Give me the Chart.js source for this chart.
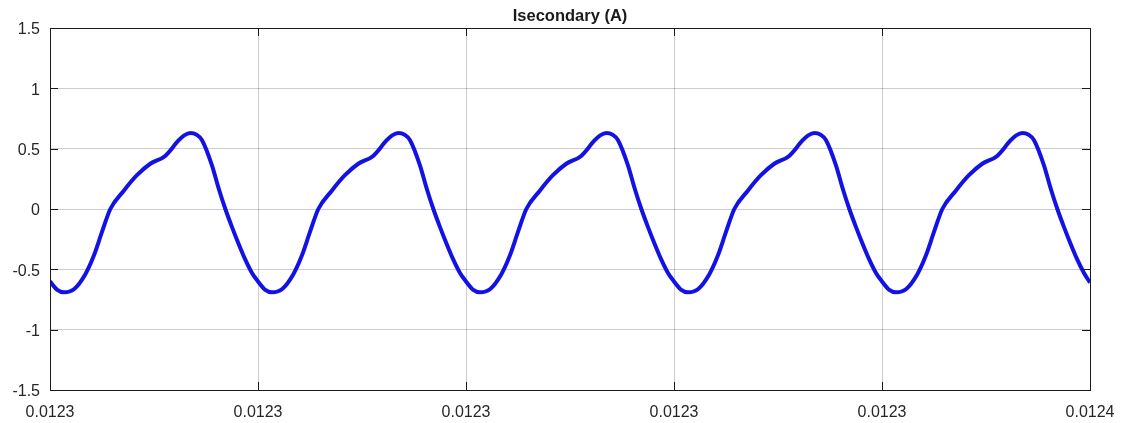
<!DOCTYPE html>
<html>
<head>
<meta charset="utf-8">
<script src="https://cdn.jsdelivr.net/npm/chart.js@4/dist/chart.umd.min.js"></script>
<style>
  html, body { margin: 0; padding: 0; background: #ffffff; }
  #wrap { width: 1124px; height: 423px; position: relative; }
</style>
</head>
<body>
<div id="wrap"><canvas id="c" width="1124" height="423"></canvas></div>
<script>
const chartTitle = "Isecondary (A)";
const xTickLabels = ["0.0123", "0.0123", "0.0123", "0.0123", "0.0123", "0.0124"];
const yTickLabels = ["-1.5", "-1", "-0.5", "0", "0.5", "1", "1.5"];
const yTickValues = [-1.5, -1, -0.5, 0, 0.5, 1, 1.5];

// time in grid divisions (0 .. 5)
const time = [
  0.000, 0.035, 0.067, 0.115, 0.170, 0.210, 0.250, 0.290, 0.354, 0.418, 0.482, 0.554,
  0.619, 0.645, 0.675, 0.705, 0.731, 0.779, 0.811, 0.843, 0.875, 0.907, 0.939, 0.971,
  1.000, 1.035, 1.067, 1.115, 1.170, 1.210, 1.250, 1.290, 1.354, 1.418, 1.482, 1.554,
  1.619, 1.645, 1.675, 1.705, 1.731, 1.779, 1.811, 1.843, 1.875, 1.907, 1.939, 1.971,
  2.000, 2.035, 2.067, 2.115, 2.170, 2.210, 2.250, 2.290, 2.354, 2.418, 2.482, 2.554,
  2.619, 2.645, 2.675, 2.705, 2.731, 2.779, 2.811, 2.843, 2.875, 2.907, 2.939, 2.971,
  3.000, 3.035, 3.067, 3.115, 3.170, 3.210, 3.250, 3.290, 3.354, 3.418, 3.482, 3.554,
  3.619, 3.645, 3.675, 3.705, 3.731, 3.779, 3.811, 3.843, 3.875, 3.907, 3.939, 3.971,
  4.000, 4.035, 4.067, 4.115, 4.170, 4.210, 4.250, 4.290, 4.354, 4.418, 4.482, 4.554,
  4.619, 4.645, 4.675, 4.705, 4.731, 4.779, 4.811, 4.843, 4.875, 4.907, 4.939, 4.971,
  5.000
];
const current = [
  -0.60, -0.67, -0.69, -0.665, -0.54, -0.39, -0.19, 0.00, 0.15, 0.28, 0.375, 0.44,
  0.57, 0.61, 0.63, 0.615, 0.57, 0.36, 0.17, 0.00, -0.15, -0.29, -0.42, -0.53,
  -0.60, -0.67, -0.69, -0.665, -0.54, -0.39, -0.19, 0.00, 0.15, 0.28, 0.375, 0.44,
  0.57, 0.61, 0.63, 0.615, 0.57, 0.36, 0.17, 0.00, -0.15, -0.29, -0.42, -0.53,
  -0.60, -0.67, -0.69, -0.665, -0.54, -0.39, -0.19, 0.00, 0.15, 0.28, 0.375, 0.44,
  0.57, 0.61, 0.63, 0.615, 0.57, 0.36, 0.17, 0.00, -0.15, -0.29, -0.42, -0.53,
  -0.60, -0.67, -0.69, -0.665, -0.54, -0.39, -0.19, 0.00, 0.15, 0.28, 0.375, 0.44,
  0.57, 0.61, 0.63, 0.615, 0.57, 0.36, 0.17, 0.00, -0.15, -0.29, -0.42, -0.53,
  -0.60, -0.67, -0.69, -0.665, -0.54, -0.39, -0.19, 0.00, 0.15, 0.28, 0.375, 0.44,
  0.57, 0.61, 0.63, 0.615, 0.57, 0.36, 0.17, 0.00, -0.15, -0.29, -0.42, -0.53,
  -0.61
];

const points = time.map((t, i) => ({ x: t, y: current[i] }));

const frameTicks = {
  id: 'frameTicks',
  afterDatasetsDraw(chart) {
    const { ctx, chartArea: a, scales: { x, y } } = chart;
    ctx.save();
    ctx.strokeStyle = '#1a1a1a';
    ctx.lineWidth = 1;
    ctx.strokeRect(Math.round(a.left) + 0.5, Math.round(a.top) + 0.5,
                   Math.round(a.right - a.left), Math.round(a.bottom - a.top));
    const L = 8;
    ctx.beginPath();
    x.ticks.forEach(t => {
      const px = Math.round(x.getPixelForValue(t.value)) + 0.5;
      ctx.moveTo(px, a.bottom); ctx.lineTo(px, a.bottom - L);
      ctx.moveTo(px, a.top); ctx.lineTo(px, a.top + L);
    });
    y.ticks.forEach(t => {
      const py = Math.round(y.getPixelForValue(t.value)) + 0.5;
      ctx.moveTo(a.left, py); ctx.lineTo(a.left + L, py);
      ctx.moveTo(a.right, py); ctx.lineTo(a.right - L, py);
    });
    ctx.stroke();
    ctx.restore();
  }
};

new Chart(document.getElementById('c'), {
  type: 'line',
  data: {
    datasets: [{
      data: points,
      borderColor: 'rgb(18,18,228)',
      borderWidth: 4,
      pointRadius: 0,
      cubicInterpolationMode: 'monotone',
      fill: false
    }]
  },
  options: {
    responsive: false,
    animation: false,
    layout: { padding: { left: 0, right: 34, top: 0, bottom: 0 } },
    plugins: {
      legend: { display: false },
      tooltip: { enabled: false },
      title: {
        display: true,
        text: chartTitle,
        fullSize: false,
        color: '#1a1a1a',
        font: { family: 'Liberation Sans, Arial, sans-serif', size: 16.5, weight: 'bold', lineHeight: 1.2 },
        padding: { top: 7, bottom: 1.2 }
      }
    },
    scales: {
      x: {
        type: 'linear',
        min: 0, max: 5,
        afterFit(s) { s.height = 33; s.paddingLeft = 0; s.paddingRight = 0; },
        afterBuildTicks(s) { s.ticks = xTickLabels.map((_, i) => ({ value: i })); },
        ticks: {
          callback: (v, i) => xTickLabels[i],
          color: '#262626',
          padding: 13,
          maxRotation: 0,
          autoSkip: false,
          font: { family: 'Liberation Sans, Arial, sans-serif', size: 16 }
        },
        grid: { color: 'rgba(0,0,0,0.2)', lineWidth: 1, drawTicks: false },
        border: { display: false }
      },
      y: {
        type: 'linear',
        min: -1.5, max: 1.5,
        afterFit(s) { s.width = 50; s.paddingTop = 0; s.paddingBottom = 0; },
        afterBuildTicks(s) { s.ticks = yTickValues.map(v => ({ value: v })); },
        ticks: {
          callback: (v, i) => yTickLabels[i],
          color: '#262626',
          padding: 10,
          labelOffset: 2,
          autoSkip: false,
          font: { family: 'Liberation Sans, Arial, sans-serif', size: 16 }
        },
        grid: { color: 'rgba(0,0,0,0.2)', lineWidth: 1, drawTicks: false },
        border: { display: false }
      }
    }
  },
  plugins: [frameTicks]
});
</script>
</body>
</html>
